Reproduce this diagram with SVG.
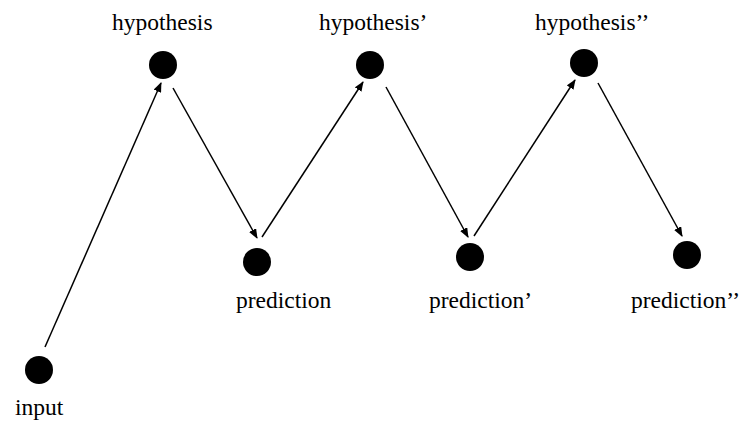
<svg xmlns="http://www.w3.org/2000/svg" width="743" height="421" viewBox="0 0 743 421">
<style>
.lbl{font-family:"Liberation Serif","Times New Roman",serif;font-size:23.5px;fill:#000}
.dot{fill:#000}
.edge{stroke:#000;stroke-width:1.5;fill:none}
</style>
<defs>
<marker id="ah" markerWidth="10" markerHeight="8" refX="9" refY="4" orient="auto" markerUnits="userSpaceOnUse">
<path d="M0,0 L10,4 L0,8 Z" fill="#000"/>
</marker>
</defs>
<rect width="743" height="421" fill="#fff"/>
<g id="connectors">
<line class="edge" x1="45" y1="347" x2="161" y2="83" marker-end="url(#ah)"/>
<line class="edge" x1="173" y1="88" x2="257" y2="238" marker-end="url(#ah)"/>
<line class="edge" x1="262" y1="237" x2="363" y2="82" marker-end="url(#ah)"/>
<line class="edge" x1="386" y1="87" x2="468" y2="237" marker-end="url(#ah)"/>
<line class="edge" x1="474" y1="236" x2="575" y2="80" marker-end="url(#ah)"/>
<line class="edge" x1="598" y1="83" x2="682" y2="236" marker-end="url(#ah)"/>
</g>
<g id="input"><circle class="dot" cx="39" cy="370" r="14"/><text class="lbl" x="15" y="415">input</text></g>
<g id="hypothesis"><circle class="dot" cx="163" cy="65" r="14"/><text class="lbl" x="112" y="30">hypothesis</text></g>
<g id="prediction"><circle class="dot" cx="257" cy="262" r="14"/><text class="lbl" x="236" y="308">prediction</text></g>
<g id="hypothesis1"><circle class="dot" cx="370" cy="65" r="14"/><text class="lbl" x="319" y="30">hypothesis’</text></g>
<g id="prediction1"><circle class="dot" cx="470" cy="257" r="14"/><text class="lbl" x="429" y="308">prediction’</text></g>
<g id="hypothesis2"><circle class="dot" cx="584" cy="63" r="14"/><text class="lbl" x="535" y="30">hypothesis’’</text></g>
<g id="prediction2"><circle class="dot" cx="687" cy="255" r="14"/><text class="lbl" x="631" y="308">prediction’’</text></g>
</svg>
